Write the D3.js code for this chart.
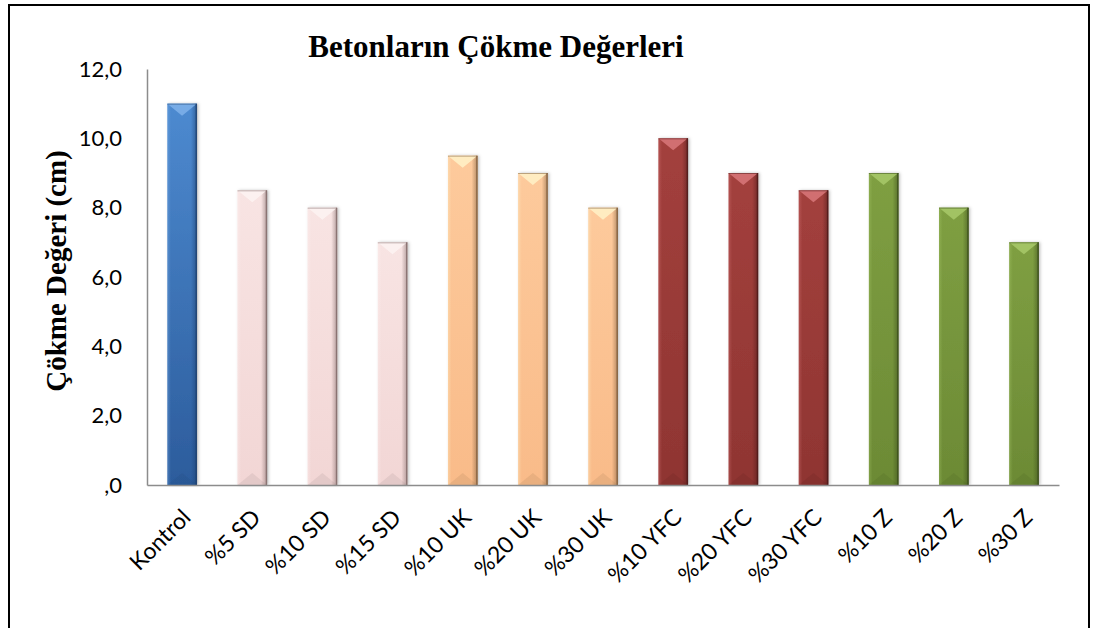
<!DOCTYPE html>
<html>
<head>
<meta charset="utf-8">
<script src="https://cdn.jsdelivr.net/npm/d3@7"></script>
<style>
  body { margin: 0; background: #fff; }
  svg { display: block; }
</style>
</head>
<body>
<svg id="canvas" width="1093" height="628"></svg>
<script>
// chart data
let categories = ['Kontrol', '%5 SD', '%10 SD', '%15 SD', '%10 UK', '%20 UK', '%30 UK',
  '%10 YFC', '%20 YFC', '%30 YFC', '%10 Z', '%20 Z', '%30 Z'];
let values = [11.0, 8.5, 8.0, 7.0, 9.5, 9.0, 8.0, 10.0, 9.0, 8.5, 9.0, 8.0, 7.0];
let groups = ['K', 'SD', 'SD', 'SD', 'UK', 'UK', 'UK', 'YFC', 'YFC', 'YFC', 'Z', 'Z', 'Z'];
let yTicks = [0, 2, 4, 6, 8, 10, 12];

let title = 'Betonların Çökme Değerleri';
let yTitle = 'Çökme Değeri (cm)';

// colours per group: [top, bottom, light bevel, dark edge]
let palette = {
  K:   ['#4d8ad0', '#2c5c9c', '#7fb2ea', '#1d3f6e'],
  SD:  ['#f8e4e3', '#f2d6d5', '#fdf3f2', '#7f6867'],
  UK:  ['#fdca9c', '#f9bb89', '#fff2c8', '#7a5a3a'],
  YFC: ['#a3403d', '#8f3532', '#d9787a', '#4c1a19'],
  Z:   ['#7f9f42', '#6c8a35', '#a8c96a', '#3a4c1b']
};

let canvas = d3.select('#canvas');

let margin = { left: 147, right: 1059, top: 69, bottom: 485 };

let x = d3.scaleBand()
  .domain(categories)
  .range([margin.left, margin.right])
  .paddingInner(0.58)
  .paddingOuter(0.29);

let y = d3.scaleLinear()
  .domain([0, 12])
  .range([margin.bottom, margin.top]);

let defs = canvas.append('defs');

Object.keys(palette).forEach(key => {
  let c = palette[key];
  let g = defs.append('linearGradient')
    .attr('id', 'grad-' + key)
    .attr('x1', 0).attr('y1', 0).attr('x2', 0).attr('y2', 1);
  g.append('stop').attr('offset', '0%').attr('stop-color', c[0]);
  g.append('stop').attr('offset', '100%').attr('stop-color', c[1]);

  // side shading, light left edge and dark right edge
  let s = defs.append('linearGradient')
    .attr('id', 'side-' + key)
    .attr('x1', 0).attr('y1', 0).attr('x2', 1).attr('y2', 0);
  s.append('stop').attr('offset', '0%').attr('stop-color', c[2]).attr('stop-opacity', 0.35);
  s.append('stop').attr('offset', '12%').attr('stop-color', c[2]).attr('stop-opacity', 0);
  s.append('stop').attr('offset', '80%').attr('stop-color', c[3]).attr('stop-opacity', 0);
  s.append('stop').attr('offset', '100%').attr('stop-color', c[3]).attr('stop-opacity', 0.55);
});

let shadow = defs.append('filter')
  .attr('id', 'shadow')
  .attr('x', '-30%').attr('y', '-10%').attr('width', '160%').attr('height', '120%');
shadow.append('feDropShadow')
  .attr('dx', 1.5).attr('dy', 0).attr('stdDeviation', 1.5)
  .attr('flood-color', '#000').attr('flood-opacity', 0.25);

// outer frame
canvas.append('rect')
  .attr('x', 9).attr('y', 5)
  .attr('width', 1080).attr('height', 640)
  .attr('fill', 'none')
  .attr('stroke', '#000')
  .attr('stroke-width', 2);

// title
canvas.append('text')
  .attr('x', 496).attr('y', 57)
  .attr('text-anchor', 'middle')
  .style('font-family', '"Liberation Serif", "Times New Roman", serif')
  .style('font-weight', 'bold')
  .style('font-size', '31px')
  .text(title);

// y axis title
canvas.append('text')
  .attr('transform', 'translate(66, 271) rotate(-90)')
  .attr('text-anchor', 'middle')
  .style('font-family', '"Liberation Serif", "Times New Roman", serif')
  .style('font-weight', 'bold')
  .style('font-size', '29px')
  .text(yTitle);

// y axis
let yAxis = d3.axisLeft(y)
  .tickValues(yTicks)
  .tickSize(0)
  .tickPadding(25)
  .tickFormat(d => d === 0 ? ',0' : d.toFixed(1).replace('.', ','));

let yG = canvas.append('g')
  .attr('transform', 'translate(' + margin.left + ',0)')
  .call(yAxis);
yG.select('.domain').attr('stroke', '#8c8c8c').attr('stroke-width', 1.5);
yG.selectAll('text')
  .style('font-family', 'Lato, "Open Sans", sans-serif')
  .style('font-size', '22px')
  .attr('fill', '#000');

// bars
let bars = canvas.selectAll('g.bar')
  .data(categories)
  .enter()
  .append('g')
  .attr('class', 'bar');

bars.each(function (cat, i) {
  let g = d3.select(this);
  let key = groups[i];
  let c = palette[key];
  let x0 = x(cat);
  let w = x.bandwidth();
  let y0 = y(values[i]);
  let y1 = y(0);
  let h = y1 - y0;

  g.append('rect')
    .attr('x', x0).attr('y', y0)
    .attr('width', w).attr('height', h)
    .attr('fill', 'url(#grad-' + key + ')')
    .attr('filter', 'url(#shadow)');

  g.append('rect')
    .attr('x', x0).attr('y', y0)
    .attr('width', w).attr('height', h)
    .attr('fill', 'url(#side-' + key + ')');

  // top bevel triangle
  g.append('path')
    .attr('d', 'M' + x0 + ',' + y0 + 'L' + (x0 + w) + ',' + y0 + 'L' + (x0 + w / 2) + ',' + (y0 + 12) + 'Z')
    .attr('fill', c[2])
    .attr('opacity', 0.85);

  // bottom bevel triangle
  g.append('path')
    .attr('d', 'M' + x0 + ',' + y1 + 'L' + (x0 + w) + ',' + y1 + 'L' + (x0 + w / 2) + ',' + (y1 - 12) + 'Z')
    .attr('fill', c[3])
    .attr('opacity', 0.12);

  // dark right edge
  g.append('line')
    .attr('x1', x0 + w - 0.5).attr('x2', x0 + w - 0.5)
    .attr('y1', y0).attr('y2', y1)
    .attr('stroke', c[3])
    .attr('stroke-width', 1.5)
    .attr('opacity', 0.8);

  g.append('line')
    .attr('x1', x0).attr('x2', x0 + w)
    .attr('y1', y0 + 0.5).attr('y2', y0 + 0.5)
    .attr('stroke', c[3])
    .attr('stroke-width', 1)
    .attr('opacity', 0.5);
});

// x axis
let xAxis = d3.axisBottom(x).tickSize(0).tickPadding(0);
let xG = canvas.append('g')
  .attr('transform', 'translate(0,' + margin.bottom + ')')
  .call(xAxis);
xG.select('.domain').attr('stroke', '#8c8c8c').attr('stroke-width', 1.5);
xG.selectAll('text')
  .style('font-family', 'Lato, "Open Sans", sans-serif')
  .style('font-size', '23px')
  .attr('fill', '#000')
  .attr('text-anchor', 'end')
  .attr('dy', 0)
  .attr('transform', 'translate(10,34) rotate(-45)');
</script>
</body>
</html>
